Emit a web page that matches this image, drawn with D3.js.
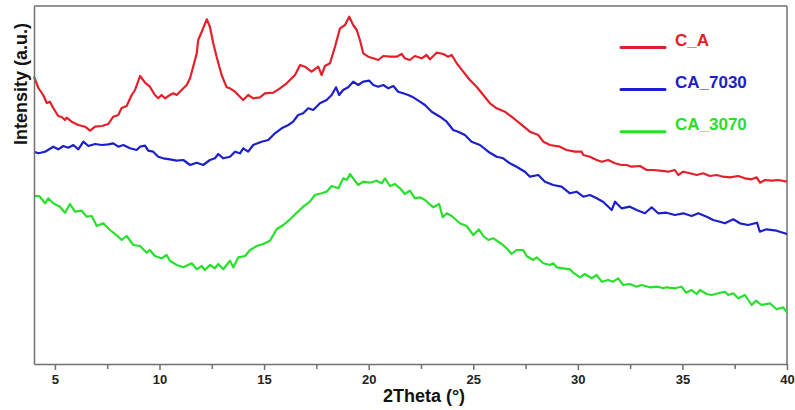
<!DOCTYPE html>
<html>
<head>
<meta charset="utf-8">
<script src="https://cdn.jsdelivr.net/npm/d3@7"></script>
<style>
  html, body { margin: 0; padding: 0; background: #fff; }
  svg { display: block; font-family: "Liberation Sans", Arial, sans-serif; }
</style>
</head>
<body>
<svg id="chart" width="795" height="410"></svg>
<script>
// ---- data (2Theta in degrees, intensity in arbitrary units) ----
const seriesNames = ["C_A", "CA_7030", "CA_3070"];
const seriesColors = ["#e3202a", "#1c20c8", "#28e02c"];
const xTicks = [5, 10, 15, 20, 25, 30, 35, 40];

const theta_CA = [4.00,4.21,4.44,4.61,4.76,4.92,5.16,5.32,5.48,5.56,5.80,6.12,6.44,6.68,6.92,7.24,7.55,7.79,8.03,8.19,8.43,8.67,8.83,9.07,9.31,9.54,9.78,9.94,10.10,10.26,10.50,10.66,10.82,11.06,11.30,11.46,11.61,11.78,11.85,12.02,12.26,12.41,12.57,12.73,12.97,13.21,13.37,13.61,14.00,14.24,14.48,14.80,15.04,15.44,15.76,16.08,16.32,16.48,16.72,16.95,17.27,17.59,17.75,17.91,18.15,18.39,18.63,18.87,19.07,19.26,19.43,19.58,19.74,19.98,20.22,20.46,20.70,21.02,21.34,21.58,21.73,21.97,22.21,22.53,22.77,22.93,23.25,23.57,23.80,23.97,24.21,24.52,24.84,25.16,25.48,25.80,26.12,26.51,26.83,27.23,27.71,28.11,28.35,28.67,29.14,29.46,29.86,30.18,30.26,30.58,30.90,31.14,31.45,31.77,32.09,32.33,32.57,32.97,33.29,33.60,33.92,34.32,34.64,34.80,35.04,35.36,35.68,35.99,36.31,36.63,36.95,37.27,37.67,37.99,38.31,38.55,38.71,38.95,39.27,39.58,40.00];
const int_CA = [287.3,276,269,261,262.3,256,248,247,244,246.3,242.3,239,237.3,233.3,237.3,238,240,247.3,249,256,258,269,274,288,281.3,277.3,269,265.7,269,265.7,269,270.7,269,274,279,285.7,297.3,310.7,324,332.3,344.7,337.3,320.7,307.3,289,276.7,275.7,272.3,264,269,265.7,266.7,270.7,271.3,275.7,280.7,285.7,289,299,297.3,292.3,297.3,289,298,300.7,317.3,335.7,339,347.3,339,334,324,310.7,307.3,305.7,304,308,307.3,307.3,310,305.7,304,308,305.7,309,304.7,311.3,310,307.3,309,300.7,292.3,284,277.3,269,260.7,255.7,252.3,247.3,240.7,232.3,229,222.3,219,217.3,214,212.3,212.3,209,207.3,204,202.3,204,200.7,199,199,197.3,198,194,194,193.3,192.3,194,189,192.3,190.7,189,190.7,188,189,187.3,186.7,188,185.7,184.7,186.7,181.3,184,183.3,184,182.3];

const theta_7030 = [4.00,4.21,4.53,4.92,5.16,5.40,5.64,5.88,6.12,6.36,6.60,6.92,7.24,7.55,7.79,8.03,8.27,8.59,8.91,9.07,9.31,9.46,9.70,9.94,10.18,10.50,10.82,11.14,11.46,11.78,12.09,12.41,12.65,12.81,13.05,13.37,13.61,13.85,14.00,14.24,14.48,14.88,15.20,15.52,15.84,16.16,16.39,16.63,16.87,17.11,17.35,17.67,17.99,18.23,18.44,18.59,18.78,19.02,19.26,19.50,19.74,20.03,20.22,20.46,20.70,20.94,21.18,21.41,21.65,21.89,22.13,22.45,22.69,23.01,23.41,23.73,24.04,24.28,24.60,24.92,25.32,25.72,26.12,26.43,26.75,27.07,27.47,27.71,28.11,28.43,28.82,29.22,29.62,29.94,30.26,30.58,30.90,31.22,31.62,31.78,32.09,32.49,32.81,33.21,33.53,33.84,34.24,34.64,35.04,35.44,35.76,36.16,36.47,36.79,37.03,37.43,37.75,38.14,38.57,38.70,39.02,39.50,40.00];
const int_7030 = [212.3,210.7,212.3,217.3,214.7,218,216.3,219,214.7,222.3,218,220,219,219.7,220.7,217.3,219,215.7,214,217.3,218.3,213.3,212.3,207.3,205.7,204.7,203.3,204,199,201.3,199,204,205.7,210,205.7,207.3,212.3,210.7,215.7,212.3,219,222.3,224,230.7,235.7,239,242.3,249,250.7,255.7,254,260.7,264,269,276.7,269,274,276.7,282.3,279,282.3,283.3,279,277.3,279,275.7,278,272.3,270.7,269,266.7,262.3,259,252.3,247.3,242.3,234,232.3,229,222.3,219,212.3,207.3,205.7,200.7,197.3,192.3,187.3,189,182.3,179,177.3,170.7,172.3,167.3,169,165.7,162,154,162.3,155.7,157.3,154,150.7,156.7,150.7,151.3,149,150.7,148,150.7,147.3,144,142.3,140.7,144.7,140.7,139,141.3,132.3,134.7,133.3,130];

const theta_3070 = [4.00,4.25,4.53,4.68,4.92,5.24,5.48,5.72,5.96,6.28,6.52,6.76,7.00,7.31,7.63,8.03,8.19,8.43,8.75,9.07,9.39,9.54,9.78,10.10,10.34,10.50,10.82,11.14,11.54,11.78,12.02,12.17,12.41,12.65,12.81,13.05,13.37,13.53,13.77,14.09,14.33,14.65,14.96,15.28,15.60,15.92,16.24,16.56,16.87,17.19,17.43,17.75,17.99,18.23,18.55,18.79,18.95,19.11,19.26,19.50,19.74,20.06,20.38,20.62,20.78,21.02,21.26,21.50,21.73,21.97,22.21,22.45,22.69,23.09,23.37,23.54,23.73,23.97,24.36,24.68,25.00,25.27,25.48,25.72,25.96,26.36,26.60,26.83,27.07,27.39,27.55,27.87,28.03,28.35,28.67,28.82,28.99,29.30,29.62,29.78,30.10,30.33,30.66,30.90,31.14,31.45,31.69,31.93,32.17,32.49,32.81,33.04,33.44,33.84,34.08,34.24,34.64,34.96,35.17,35.44,35.68,35.84,36.16,36.40,36.71,37.03,37.19,37.43,37.67,37.99,38.31,38.52,38.78,39.18,39.50,39.82,40.00];
const int_3070 = [168,168,160.7,165.7,160.7,157.3,151.3,160,152.3,153.3,147.3,148,138,140.7,134,127.3,124,128,119,118,111.3,114,108,105.7,109,103.3,99,96.7,100.7,94.7,98,94,99,95.7,100,94.7,103.3,96.7,106.7,108,114,118,120,123.3,134.7,139,144.7,151.3,157.3,162.3,169,170.7,172.3,178,175.7,185.7,184,190,185.7,179,182.3,181.3,183.3,180.7,185.7,178,180,175.7,170,173.3,165.7,166.7,164,156.7,160,146.7,150.7,148,140.7,138,129,134.7,128,124,125.7,120,115.7,110,114,114,108,104,106.7,100.7,99,100.7,96.7,95.7,94.7,91.3,86.7,90,85.7,89,82.3,84,82.3,85.7,79,80,77.3,79,76.7,77.3,75.7,76.7,75.7,77.3,71.3,74,70,74,70,69,70.7,72.3,69,70.7,65.7,69,59,63.3,59,60.7,54.7,56.7,51.3];

const xLabel = "2Theta (°)";
const yLabel = "Intensity (a.u.)";

// ---- layout ----
const svg = d3.select("#chart");
const M = { left: 34, right: 787, top: 6, bottom: 364 };

const x = d3.scaleLinear().domain([4, 40]).range([M.left, M.right]);
const y = d3.scaleLinear().domain([0, 358]).range([M.bottom, M.top]);

const series = [
  { name: seriesNames[0], color: seriesColors[0], pts: theta_CA.map((t, i) => [t, int_CA[i]]) },
  { name: seriesNames[1], color: seriesColors[1], pts: theta_7030.map((t, i) => [t, int_7030[i]]) },
  { name: seriesNames[2], color: seriesColors[2], pts: theta_3070.map((t, i) => [t, int_3070[i]]) }
];

const line = d3.line().x(d => x(d[0])).y(d => y(d[1]));

// frame (top and right)
const frameColor = "#707070";
svg.append("line").attr("x1", M.left).attr("x2", M.right).attr("y1", M.top).attr("y2", M.top)
  .attr("stroke", frameColor).attr("stroke-width", 1.5);
svg.append("line").attr("x1", M.right).attr("x2", M.right).attr("y1", M.top).attr("y2", M.bottom)
  .attr("stroke", frameColor).attr("stroke-width", 1.5);

// curves
svg.append("g").selectAll("path").data(series).join("path")
  .attr("d", d => line(d.pts))
  .attr("fill", "none")
  .attr("stroke", d => d.color)
  .attr("stroke-width", 2.2)
  .attr("stroke-linejoin", "round");

// x axis
const minorTicks = d3.range(7.5, 40, 5);
const xAxisMinor = svg.append("g").attr("transform", `translate(0,${M.bottom})`)
  .call(d3.axisBottom(x).tickValues(minorTicks).tickSize(5).tickFormat(""));
xAxisMinor.select(".domain").remove();
xAxisMinor.selectAll("line").attr("stroke", frameColor).attr("stroke-width", 1.5);

const xAxis = svg.append("g").attr("transform", `translate(0,${M.bottom})`)
  .call(d3.axisBottom(x).tickValues(xTicks).tickSize(6).tickSizeOuter(0).tickPadding(5));
xAxis.select(".domain").attr("stroke", frameColor).attr("stroke-width", 1.5);
xAxis.selectAll(".tick line").attr("stroke", frameColor).attr("stroke-width", 1.5);
xAxis.selectAll(".tick text")
  .attr("font-family", "Liberation Sans, Arial, sans-serif")
  .attr("font-size", 13).attr("font-weight", "bold").attr("fill", "#222");

// y axis (line only)
const yAxis = svg.append("g").attr("transform", `translate(${M.left},0)`)
  .call(d3.axisLeft(y).tickValues([]).tickSizeOuter(0));
yAxis.select(".domain").attr("stroke", frameColor).attr("stroke-width", 1.5);

// axis titles
svg.append("text").attr("x", 424).attr("y", 402).attr("text-anchor", "middle")
  .attr("font-size", 18).attr("font-weight", "bold").attr("fill", "#111").text(xLabel);
svg.append("text").attr("transform", "translate(27,84) rotate(-90)").attr("text-anchor", "middle")
  .attr("font-size", 18).attr("font-weight", "bold").attr("fill", "#111").text(yLabel);

// legend
const legendY = [47.5, 89.5, 131.7];
const lg = svg.append("g").selectAll("g").data(series).join("g")
  .attr("transform", (d, i) => `translate(0,${legendY[i]})`);
lg.append("line").attr("x1", 621).attr("x2", 665).attr("y1", 0).attr("y2", 0)
  .attr("stroke", d => d.color).attr("stroke-width", 3).attr("stroke-linecap", "round");
lg.append("text").attr("x", 675).attr("y", -1.5)
  .attr("font-size", 17).attr("font-weight", "bold").attr("fill", d => d.color).text(d => d.name);
</script>
</body>
</html>
